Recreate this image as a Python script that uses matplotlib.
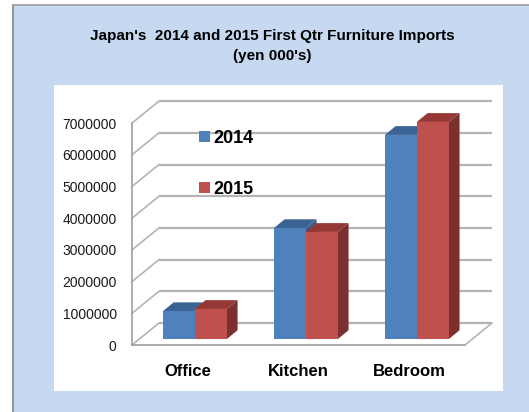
import matplotlib
matplotlib.use('Agg')
import matplotlib.pyplot as plt
from matplotlib.patches import Polygon, Rectangle, Patch
from matplotlib.lines import Line2D
import numpy as np

plt.rcParams['font.family'] = ['Liberation Sans Narrow', 'Liberation Sans', 'DejaVu Sans']

categories = ['Office', 'Kitchen', 'Bedroom']
years = ['2014', '2015']
imports_2014 = [880000, 3500000, 6440000]
imports_2015 = [950000, 3380000, 6850000]
yticks = [0, 1000000, 2000000, 3000000, 4000000, 5000000, 6000000, 7000000]

blue = ['#4f81bd', '#3b6494', '#385d8a']
red = ['#c0504d', '#953735', '#7b2f2e']
grid_col = '#b4b4b4'

# oblique "3d" offsets: how far the depth axis moves in data units
DX = 0.2432
DY = 694000.0
z0, z1 = 0.27, 0.67
bw = 0.288

def proj(x, y, z):
	return (x + z * DX, y + z * DY)

fig = plt.figure(figsize=(5.29, 4.12), dpi=100)
fig.patch.set_facecolor('white')

# blue frame behind the chart
fig.patches.append(Rectangle((13/529., -0.05), 1.1, 1.05 - 5/412., transform=fig.transFigure,
	facecolor='#c6d9f1', edgecolor='none', zorder=-2))
fig.add_artist(Line2D([13/529., 13/529.], [0, 1 - 5/412.], transform=fig.transFigure, color='#8c8c8c', lw=1.3, zorder=-1))
fig.add_artist(Line2D([13/529., 1], [1 - 5/412., 1 - 5/412.], transform=fig.transFigure, color='#a0a0a0', lw=1.3, zorder=-1))

fig.text(272/529., 1 - 46/412., "Japan's  2014 and 2015 First Qtr Furniture Imports\n(yen 000's)",
	ha='center', va='center', fontsize=11, fontweight='bold', linespacing=1.5)

ax = fig.add_axes([54/529., 21/412., 449/529., 306/412.])
ax.set_facecolor('white')
ax.set_xlim(-1.2027, 2.8423)
ax.set_ylim(-1451100, 8201900)

# walls: back wall lines and side wall diagonals
for v in yticks:
	p1 = proj(-0.5, v, 1)
	p2 = proj(2.5, v, 1)
	ax.plot([p1[0], p2[0]], [p1[1], p2[1]], color=grid_col, lw=1.6, zorder=1, solid_capstyle='butt')
	p0 = proj(-0.5, v, 0)
	ax.plot([p0[0], p1[0]], [p0[1], p1[1]], color=grid_col, lw=1.2, zorder=1)
# right floor edge
p0 = proj(2.5, 0, 0)
p1 = proj(2.5, 0, 1)
ax.plot([p0[0], p1[0]], [p0[1], p1[1]], color=grid_col, lw=1.2, zorder=1)

def bar3d(xl, v, cols):
	xr = xl + bw
	front = [proj(xl, 0, z0), proj(xr, 0, z0), proj(xr, v, z0), proj(xl, v, z0)]
	top = [proj(xl, v, z0), proj(xr, v, z0), proj(xr, v, z1), proj(xl, v, z1)]
	side = [proj(xr, 0, z0), proj(xr, 0, z1), proj(xr, v, z1), proj(xr, v, z0)]
	ax.add_patch(Polygon(side, closed=True, facecolor=cols[2], edgecolor='none', zorder=3))
	ax.add_patch(Polygon(top, closed=True, facecolor=cols[1], edgecolor='none', zorder=3))
	ax.add_patch(Polygon(front, closed=True, facecolor=cols[0], edgecolor='none', zorder=3))

for i in range(len(categories)):
	bar3d(i - bw, imports_2014[i], blue)
	bar3d(i, imports_2015[i], red)

for s in ['top', 'right']:
	ax.spines[s].set_visible(False)
ax.spines['left'].set_position(('data', -0.5))
ax.spines['left'].set_bounds(0, 7000000)
ax.spines['bottom'].set_position(('data', 0))
ax.spines['bottom'].set_bounds(-0.5, 2.5)
ax.spines['left'].set_color('#a0a0a0')
ax.spines['bottom'].set_color('#a0a0a0')
ax.spines['left'].set_linewidth(1.2)
ax.spines['bottom'].set_linewidth(1.2)

ax.set_yticks(yticks)
ax.set_yticklabels([str(v) for v in yticks], fontsize=10, color='#1a1a1a')
ax.set_xticks(range(len(categories)))
ax.set_xticklabels(categories, fontsize=12, fontweight='bold')
ax.tick_params(axis='y', length=0, pad=11)
ax.tick_params(axis='x', length=0, pad=14)

handles = [Patch(facecolor=blue[0]), Patch(facecolor=red[0])]
leg = ax.legend(handles, years, loc='upper left', bbox_to_anchor=(199/529., 1 - 130/412.),
	bbox_transform=fig.transFigure, frameon=False, borderpad=0, borderaxespad=0,
	handlelength=0.61, handleheight=0.55, handletextpad=0.2, labelspacing=1.9,
	prop={'size': 13, 'weight': 'bold'})

fig.savefig('out.png', dpi=100, facecolor=fig.get_facecolor())
